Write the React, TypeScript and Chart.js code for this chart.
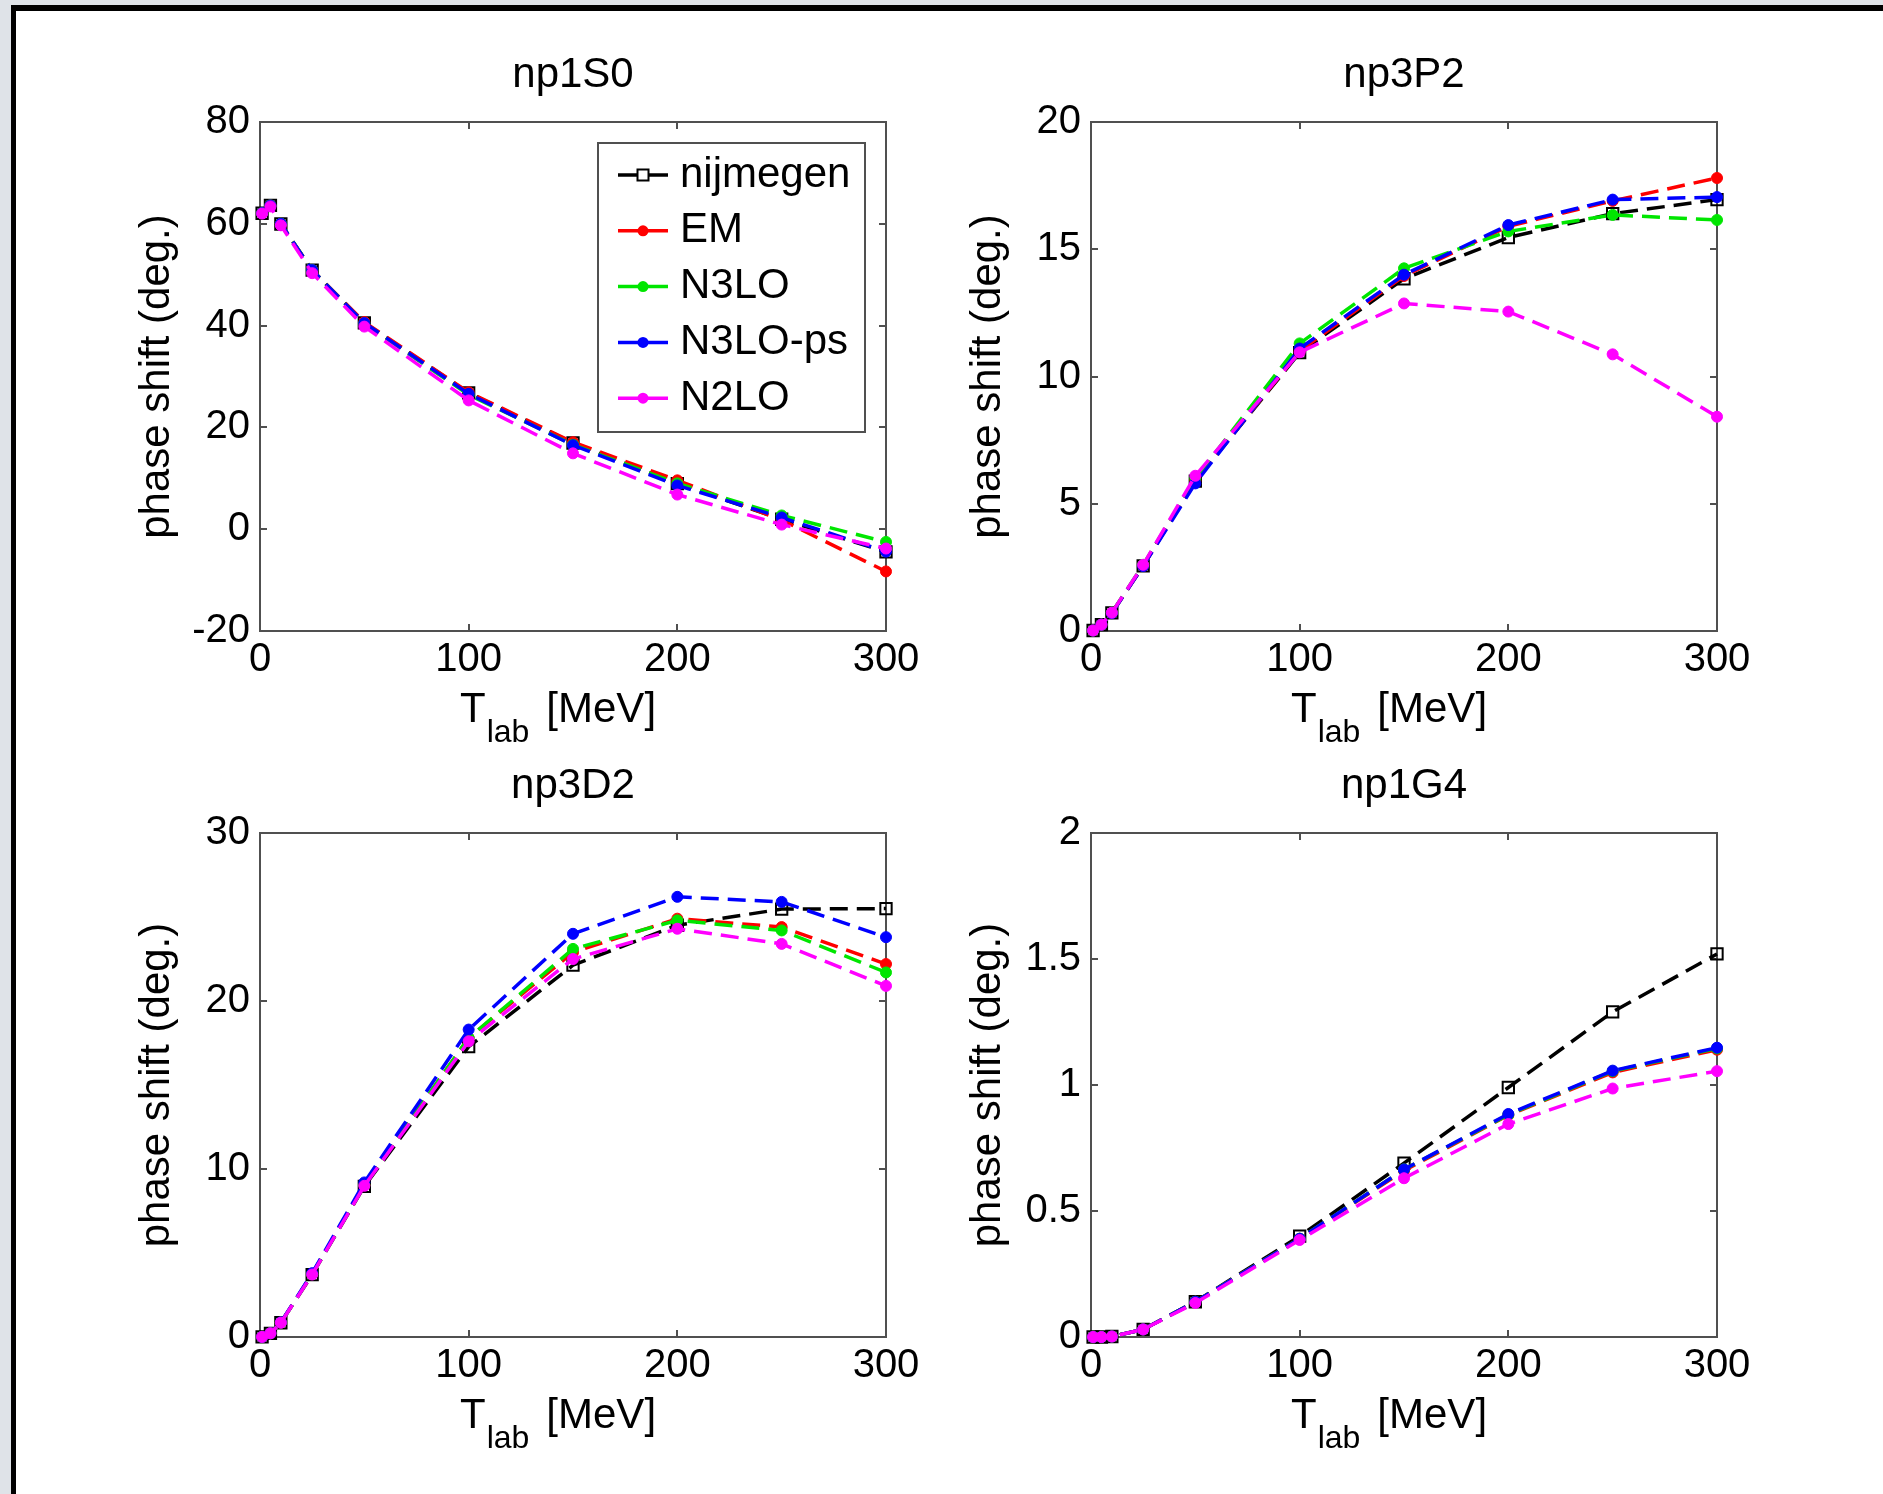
import React, { useEffect, useRef } from "react";
import { Chart, registerables } from "chart.js";

Chart.register(...registerables);

const FONT = '"Liberation Sans", Arial, Helvetica, sans-serif';
Chart.defaults.font.family = FONT;

// ---------------- data ----------------
const energies = [1, 5, 10, 25, 50, 100, 150, 200, 250, 300];
const seriesNames = ["nijmegen", "EM", "N3LO", "N3LO-ps", "N2LO"];
const xTickValues = [0, 100, 200, 300];

const nijmegen1S0 = [62.07, 63.63, 59.96, 50.9, 40.54, 26.78, 16.94, 8.94, 1.96, -4.46];
const em1S0 = [62.1, 63.6, 60.0, 50.9, 40.7, 26.9, 17.1, 9.6, 1.8, -8.3];
const n3lo1S0 = [62.1, 63.6, 60.0, 50.9, 40.4, 26.4, 16.6, 9.0, 2.7, -2.5];
const n3lops1S0 = [62.1, 63.6, 60.0, 50.9, 40.5, 26.6, 16.5, 8.6, 2.3, -4.4];
const n2lo1S0 = [62.0, 63.4, 59.7, 50.3, 39.8, 25.3, 14.9, 6.8, 0.9, -3.8];
const yTicks1S0 = [-20, 0, 20, 40, 60, 80];

const nijmegen3P2 = [0.02, 0.25, 0.71, 2.56, 5.89, 10.94, 13.84, 15.46, 16.4, 16.95];
const em3P2 = [0.02, 0.25, 0.71, 2.56, 5.9, 11.0, 13.95, 15.9, 16.9, 17.8];
const n3lo3P2 = [0.02, 0.25, 0.72, 2.6, 6.0, 11.3, 14.25, 15.7, 16.35, 16.15];
const n3lops3P2 = [0.02, 0.25, 0.7, 2.55, 5.8, 11.1, 14.0, 15.95, 16.95, 17.05];
const n2lo3P2 = [0.02, 0.25, 0.72, 2.6, 6.1, 10.95, 12.87, 12.55, 10.87, 8.42];
const yTicks3P2 = [0, 5, 10, 15, 20];

const nijmegen3D2 = [0.006, 0.22, 0.85, 3.71, 8.97, 17.28, 22.13, 24.51, 25.47, 25.5];
const em3D2 = [0.006, 0.22, 0.86, 3.75, 9.05, 17.8, 22.9, 24.9, 24.4, 22.2];
const n3lo3D2 = [0.006, 0.22, 0.86, 3.75, 9.05, 17.8, 23.1, 24.8, 24.2, 21.7];
const n3lops3D2 = [0.006, 0.22, 0.87, 3.8, 9.2, 18.3, 24.0, 26.2, 25.9, 23.8];
const n2lo3D2 = [0.006, 0.22, 0.85, 3.72, 9.0, 17.6, 22.5, 24.3, 23.4, 20.9];
const yTicks3D2 = [0, 10, 20, 30];

const nijmegen1G4 = [0.0, 0.0, 0.002, 0.03, 0.14, 0.4, 0.69, 0.99, 1.29, 1.52];
const em1G4 = [0.0, 0.0, 0.002, 0.03, 0.14, 0.39, 0.66, 0.88, 1.05, 1.14];
const n3lo1G4 = [0.0, 0.0, 0.002, 0.03, 0.14, 0.39, 0.665, 0.882, 1.055, 1.145];
const n3lops1G4 = [0.0, 0.0, 0.002, 0.03, 0.14, 0.39, 0.665, 0.885, 1.057, 1.148];
const n2lo1G4 = [0.0, 0.0, 0.002, 0.03, 0.135, 0.385, 0.63, 0.845, 0.986, 1.055];
const yTicks1G4 = [0, 0.5, 1, 1.5, 2];

// ---------------- styles / layout ----------------
const seriesColors = ["#000000", "#ff0000", "#00e600", "#0000ff", "#ff00ff"];
const AXIS = "#505050";
const MARGIN = { left: 140, top: 101, right: 50, bottom: 130 };

type Area = { left: number; top: number; width: number; height: number };

const panels = [
  { title: "np1S0", series: [nijmegen1S0, em1S0, n3lo1S0, n3lops1S0, n2lo1S0], yTicks: yTicks1S0, legend: true, area: { left: 260, top: 122, width: 626, height: 509 } },
  { title: "np3P2", series: [nijmegen3P2, em3P2, n3lo3P2, n3lops3P2, n2lo3P2], yTicks: yTicks3P2, legend: false, area: { left: 1091, top: 122, width: 626, height: 509 } },
  { title: "np3D2", series: [nijmegen3D2, em3D2, n3lo3D2, n3lops3D2, n2lo3D2], yTicks: yTicks3D2, legend: false, area: { left: 260, top: 833, width: 626, height: 504 } },
  { title: "np1G4", series: [nijmegen1G4, em1G4, n3lo1G4, n3lops1G4, n2lo1G4], yTicks: yTicks1G4, legend: false, area: { left: 1091, top: 833, width: 626, height: 504 } },
];

const xTitlePlugin = {
  id: "xTitleSub",
  afterDraw(chart: any) {
    const ca = chart.chartArea;
    const ctx = chart.ctx as CanvasRenderingContext2D;
    ctx.save();
    ctx.fillStyle = "#000";
    ctx.textAlign = "left";
    ctx.textBaseline = "alphabetic";
    const x0 = ca.left + 200;
    const yb = ca.bottom + 91;
    ctx.font = `42px ${FONT}`;
    ctx.fillText("T", x0, yb);
    const wT = ctx.measureText("T").width;
    ctx.font = `32px ${FONT}`;
    ctx.fillText("lab", x0 + wT + 1, yb + 20);
    const wl = ctx.measureText("lab").width;
    ctx.font = `42px ${FONT}`;
    ctx.fillText("[MeV]", x0 + wT + 1 + wl + 17, yb);
    ctx.restore();
  },
};

const legendPlugin = {
  id: "insetLegend",
  afterDraw(chart: any) {
    const ca = chart.chartArea;
    const ctx = chart.ctx as CanvasRenderingContext2D;
    const bx = ca.left + 338;
    const by = ca.top + 21;
    const bw = 267;
    const bh = 289;
    ctx.save();
    ctx.fillStyle = "#ffffff";
    ctx.fillRect(bx, by, bw, bh);
    ctx.strokeStyle = AXIS;
    ctx.lineWidth = 2;
    ctx.setLineDash([]);
    ctx.strokeRect(bx, by, bw, bh);
    chart.data.datasets.forEach((ds: any, i: number) => {
      const cy = by + 32 + i * 55.8;
      const color = ds.borderColor;
      ctx.setLineDash([]);
      ctx.strokeStyle = color;
      ctx.lineWidth = 3.5;
      ctx.beginPath();
      ctx.moveTo(bx + 20, cy);
      ctx.lineTo(bx + 70, cy);
      ctx.stroke();
      if (ds.pointStyle === "rect") {
        ctx.fillStyle = "#ffffff";
        ctx.fillRect(bx + 39.5, cy - 5.5, 11, 11);
        ctx.lineWidth = 2;
        ctx.strokeRect(bx + 39.5, cy - 5.5, 11, 11);
      } else {
        ctx.fillStyle = color;
        ctx.beginPath();
        ctx.arc(bx + 45, cy, 5.5, 0, Math.PI * 2);
        ctx.fill();
      }
      ctx.fillStyle = "#000";
      ctx.font = `42px ${FONT}`;
      ctx.textAlign = "left";
      ctx.textBaseline = "middle";
      ctx.fillText(ds.label, bx + 82, cy);
    });
    ctx.restore();
  },
};

function axisCommon(tickValues: number[]) {
  return {
    type: "linear" as const,
    min: tickValues[0],
    max: tickValues[tickValues.length - 1],
    afterBuildTicks: (s: any) => {
      s.ticks = tickValues.map((v) => ({ value: v }));
    },
    grid: { drawOnChartArea: false, drawTicks: true, tickLength: -7, color: AXIS, lineWidth: 2 },
    border: { display: true, color: AXIS, width: 2 },
  };
}

function Panel({ cfg }: { cfg: (typeof panels)[number] }) {
  const ref = useRef<HTMLCanvasElement>(null);
  const a: Area = cfg.area;
  const cw = a.width + MARGIN.left + MARGIN.right;
  const chh = a.height + MARGIN.top + MARGIN.bottom;
  const cl = a.left - MARGIN.left;
  const ct = a.top - MARGIN.top;

  useEffect(() => {
    if (!ref.current) return;
    const datasets = cfg.series.map((vals, i) => ({
      label: seriesNames[i],
      data: energies.map((e, k) => ({ x: e, y: vals[k] })),
      borderColor: seriesColors[i],
      backgroundColor: seriesColors[i],
      borderWidth: 3.5,
      borderDash: [18, 9],
      fill: false,
      tension: 0,
      pointStyle: i === 0 ? "rect" : "circle",
      pointRadius: i === 0 ? 8 : 5.5,
      pointBorderWidth: i === 0 ? 2 : 1,
      pointBackgroundColor: i === 0 ? "rgba(255,255,255,0)" : seriesColors[i],
      pointBorderColor: seriesColors[i],
      clip: false as const,
      order: seriesNames.length - 1 - i,
      xAxisID: "x",
      yAxisID: "y",
    }));

    const chart = new Chart(ref.current, {
      type: "line",
      data: { datasets },
      options: {
        responsive: false,
        animation: false,
        devicePixelRatio: 1,
        layout: { padding: { left: 0, top: 0, right: MARGIN.right, bottom: 0 } },
        plugins: {
          legend: { display: false },
          tooltip: { enabled: false },
          title: {
            display: true,
            fullSize: false,
            text: cfg.title,
            color: "#000",
            font: { family: FONT, size: 42, weight: "normal", lineHeight: 1.2 },
            padding: { top: 29.3, bottom: 21.3 },
          },
        },
        scales: {
          x: {
            ...axisCommon(xTickValues),
            position: "bottom",
            afterFit: (s: any) => {
              s.height = MARGIN.bottom;
            },
            ticks: {
              color: "#000",
              padding: 16,
              maxRotation: 0,
              autoSkip: false,
              font: { family: FONT, size: 40, lineHeight: 1 },
              callback: (v: any) => String(v),
            },
          },
          xTop: {
            ...axisCommon(xTickValues),
            position: "top",
            afterFit: (s: any) => {
              s.height = 0;
            },
            ticks: { display: false },
          },
          y: {
            ...axisCommon(cfg.yTicks),
            position: "left",
            afterFit: (s: any) => {
              s.width = MARGIN.left;
            },
            title: {
              display: true,
              text: "phase shift (deg.)",
              color: "#000",
              font: { family: FONT, size: 42, lineHeight: 1.2 },
              padding: { top: 11.8, bottom: 0 },
            },
            ticks: {
              color: "#000",
              padding: 17,
              autoSkip: false,
              font: { family: FONT, size: 40, lineHeight: 1 },
              callback: (v: any) => String(Math.round(Number(v) * 100) / 100),
            },
          },
          yRight: {
            ...axisCommon(cfg.yTicks),
            position: "right",
            afterFit: (s: any) => {
              s.width = 0;
            },
            ticks: { display: false },
          },
        },
      } as any,
      plugins: cfg.legend ? [xTitlePlugin, legendPlugin] : [xTitlePlugin],
    });
    return () => chart.destroy();
  }, []);

  return (
    <canvas
      ref={ref}
      width={cw}
      height={chh}
      style={{ position: "absolute", left: cl, top: ct, width: cw, height: chh }}
    />
  );
}

export default function App() {
  return (
    <div
      style={{
        position: "absolute",
        left: 0,
        top: 0,
        width: 1883,
        height: 1494,
        background: "#dfe3e8",
        overflow: "hidden",
      }}
    >
      <div
        style={{
          position: "absolute",
          left: 11,
          top: 5,
          width: 1872,
          height: 1489,
          boxSizing: "border-box",
          borderTop: "6px solid #000",
          borderLeft: "5px solid #000",
          background: "#ffffff",
        }}
      />
      {panels.map((p) => (
        <Panel key={p.title} cfg={p} />
      ))}
    </div>
  );
}
